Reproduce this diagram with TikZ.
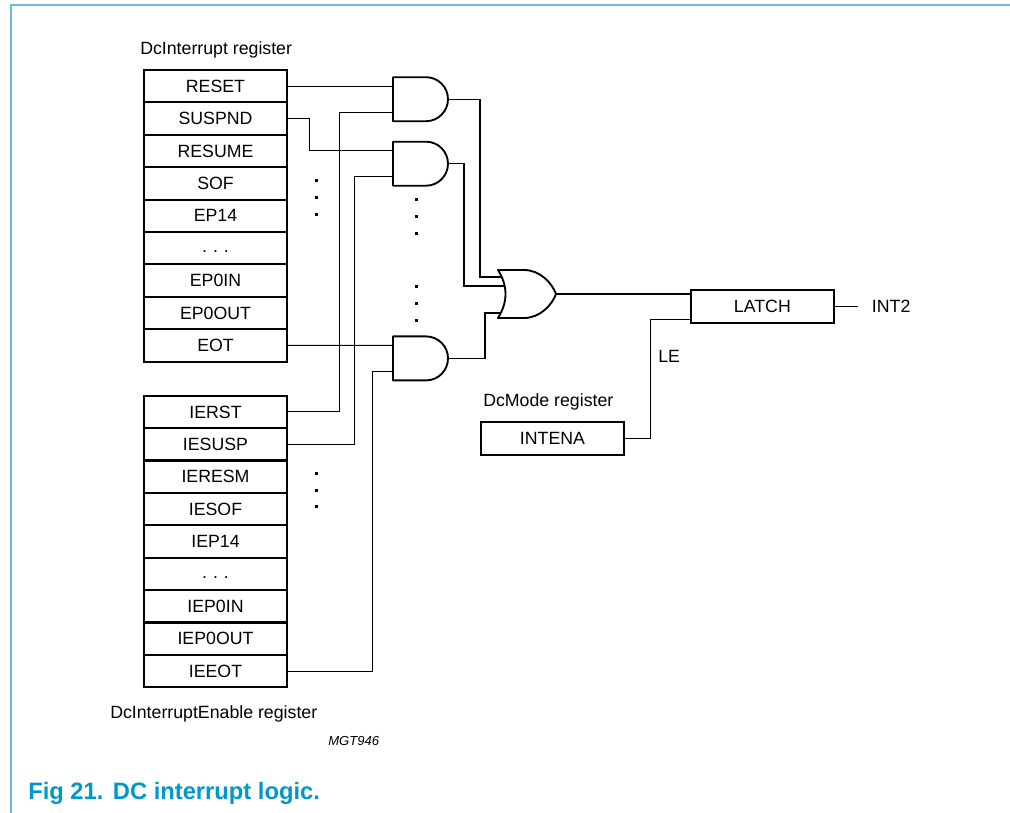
\documentclass[tikz,border=0pt]{standalone}
\usepackage{fontspec}
\setmainfont{Liberation Sans}
\usetikzlibrary{positioning}

\definecolor{capblue}{RGB}{0,152,200}
\definecolor{framecol}{RGB}{100,190,218}

\newcommand{\gapdots}{\strut.\hspace{4.5pt}.\hspace{4.5pt}.}

\tikzset{
    andgate/.pic={
        \draw[gate] (-27,-22) -- (6,-22) arc[start angle=-90, end angle=90, radius=22] -- (-27,22) -- cycle;
        \coordinate (-in1) at (-27,-13);
        \coordinate (-in2) at (-27,13);
        \coordinate (-out) at (28,0);
    },
    orgate/.pic={
        \draw[gate] (-29,-24) -- (-3,-24) .. controls (13,-24) and (25,-11) .. (29,0)
            .. controls (25,11) and (13,24) .. (-3,24) -- (-29,24)
            .. controls (-19,8) and (-19,-8) .. (-29,-24) -- cycle;
        \coordinate (-in1) at (-25.2,-17);
        \coordinate (-in2) at (-22.4,-8);
        \coordinate (-in3) at (-26.3,19);
        \coordinate (-out) at (29,0);
    }
}

\begin{document}
\begin{tikzpicture}[
    x = 0.75pt,
    y = -0.75pt,
    font = \fontsize{13.3}{16}\selectfont
]

% Setup the styles
\tikzstyle{reg}=[draw, line width=1.6pt, minimum width=106.8pt, minimum height=24.3pt, inner sep=0pt, outer sep=0pt]
\tikzstyle{gate}=[line width=1.4pt, line join=round]
\tikzstyle{wire}=[line width=0.8pt]
\tikzstyle{txt}=[inner sep=0pt, anchor=base west]

\useasboundingbox (0,0) rectangle (1010,813);

% Frame
\draw[framecol, line width=1pt] (1010,5) -- (11,5) -- (11,813);

% Registers
\node[txt] (irname) at (140,55) {DcInterrupt register};
\foreach \lab [count=\i] in {RESET,SUSPND,RESUME,SOF,EP14,\gapdots,EP0IN,EP0OUT,EOT}
    \node[reg] (ir\i) at (215.5,{86.2+32.4*(\i-1)}) {\lab};

\foreach \lab [count=\i] in {IERST,IESUSP,IERESM,IESOF,IEP14,\gapdots,IEP0IN,IEP0OUT,IEEOT}
    \node[reg] (ie\i) at (215.5,{411.9+32.4*(\i-1)}) {\lab};
\node[txt] (iename) at (110,718) {DcInterruptEnable register};

% Gates
\pic (g1) at (420,99.2) {andgate};
\pic (g2) at (420,163.7) {andgate};
\pic (g3) at (420,358.4) {andgate};
\pic (or) at (527,294) {orgate};

% Latch and mode register
\node[reg, minimum width=107.5pt, minimum height=24.5pt] (latch) at (762.4,306.4) {LATCH};
\node[reg, minimum width=107.5pt, minimum height=24.5pt] (intena) at (552.5,438.7) {INTENA};
\node[txt] (modename) at (483,406.7) {DcMode register};
\node[txt] (le) at (658,362) {LE};

% Wires into the AND gates
\draw[wire] (ir1.east) -- (g1-in1);
\draw[wire] (ir2.east) -- ++(23,0) |- (g2-in1);
\draw[wire] (ir9.east) -- (g3-in1);
\draw[wire] (ie1.east) -- ++(53,0) |- (g1-in2);
\draw[wire] (ie2.east) -- ++(68,0) |- (g2-in2);
\draw[wire] (ie9.east) -- ++(86,0) |- (g3-in2);

% AND gates into the OR gate
\draw[wire] (g1-out) -- ++(32,0) |- (or-in1);
\draw[wire] (g2-out) -- ++(16,0) |- (or-in2);
\draw[wire] (g3-out) -- ++(37,0) |- (or-in3);

% OR gate into the latch
\draw[wire] (or-out) -- (or-out -| latch.west);
\draw[wire] (intena.east) -- ++(26,0) |- ([yshift=2.25pt]latch.south west);
\draw[wire] (latch.east) -- ++(24,0) node[txt, anchor=west, xshift=10pt] (int2) {INT2};

% Dots
\foreach \y in {181,197.5,214}
    \fill (315.2,\y-1.5) rectangle ++(3,3);
\foreach \y in {200,216.7,233.3,286.7,303.3,320}
    \fill (415.2,\y-1.5) rectangle ++(3,3);
\foreach \y in {473.3,490,506.7}
    \fill (314.5,\y-1.5) rectangle ++(3,3);

% Labels
\node[txt, font=\fontsize{9.8}{12}\selectfont\itshape] (code) at (328,745) {MGT946};
\node[txt, font=\fontsize{17.8}{20}\bfseries, text=capblue] (caption) at (28,799) {Fig 21.\hspace{0.4em}DC interrupt logic.};

\end{tikzpicture}
\end{document}
